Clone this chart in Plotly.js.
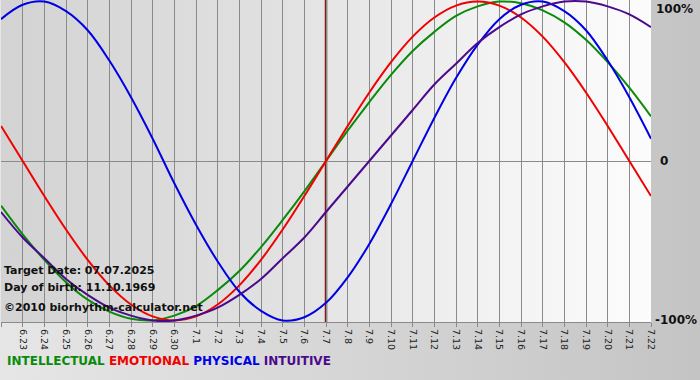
<!DOCTYPE html>
<html>
<head>
<meta charset="utf-8">
<script src="https://cdn.plot.ly/plotly-3.0.1.min.js"></script>
<style>
  html, body { margin: 0; padding: 0; }
  #wrap { position: relative; width: 700px; height: 380px; overflow: hidden;
          background: linear-gradient(to right, #e6e6e6 0%, #d2d2d2 60%, #c4c4c4 100%); }
  #plotbg { position: absolute; left: 1px; top: 0px; width: 650px; height: 322px;
            background: linear-gradient(to right, #d3d3d3 0%, #e0e0e0 40%, #f2f2f2 75%, #fcfcfc 100%); }
  #chart { position: absolute; left: 0; top: 0; width: 700px; height: 380px; }
</style>
</head>
<body>
<div id="wrap"><div id="plotbg"></div><div id="chart"></div></div>
<script>
// Day labels (month.day), 22 June to 22 July 2025
const dayLabels = ["6.22","6.23","6.24","6.25","6.26","6.27","6.28","6.29","6.30","7.1","7.2","7.3","7.4","7.5","7.6","7.7","7.8","7.9","7.10","7.11","7.12","7.13","7.14","7.15","7.16","7.17","7.18","7.19","7.20","7.21","7.22"];
const targetLabel = "7.7";

// Values (fraction of 100%)
const intellectual = [-0.28,-0.46,-0.62,-0.76,-0.87,-0.945,-0.99,-1.0,-0.97,-0.91,-0.81,-0.69,-0.54,-0.37,-0.19,0.0,0.19,0.37,0.54,0.69,0.81,0.91,0.97,1.0,0.99,0.945,0.87,0.76,0.62,0.46,0.28];
const emotional    = [0.22,0.0,-0.22,-0.43,-0.62,-0.78,-0.90,-0.975,-1.0,-0.975,-0.90,-0.78,-0.62,-0.43,-0.22,0.0,0.22,0.43,0.62,0.78,0.90,0.975,1.0,0.975,0.90,0.78,0.62,0.43,0.22,0.0,-0.22];
const physical     = [0.89,0.98,1.0,0.94,0.82,0.63,0.40,0.14,-0.14,-0.40,-0.63,-0.82,-0.94,-1.0,-0.98,-0.89,-0.73,-0.52,-0.27,0.0,0.27,0.52,0.73,0.89,0.98,1.0,0.94,0.82,0.63,0.40,0.14];
const intuitive    = [-0.32,-0.48,-0.61,-0.74,-0.84,-0.92,-0.97,-1.0,-1.0,-0.97,-0.92,-0.84,-0.74,-0.61,-0.48,-0.32,-0.16,0.0,0.16,0.32,0.48,0.61,0.74,0.84,0.92,0.97,1.0,1.0,0.97,0.92,0.84];

const seriesNames  = ["INTELLECTUAL","EMOTIONAL","PHYSICAL","INTUITIVE"];
const seriesColors = ["#0a8a0a","#f00000","#0000e6","#4b0a8c"];
const seriesData   = [intellectual, emotional, physical, intuitive];

const xs = dayLabels.map((_, i) => i);
const traces = seriesData.map((vals, k) => ({
  x: xs, y: vals, type: "scatter", mode: "lines",
  name: seriesNames[k],
  line: { color: seriesColors[k], width: 2, shape: "spline", smoothing: 1 },
  hoverinfo: "skip", showlegend: false
}));

const targetIdx = dayLabels.indexOf(targetLabel);

const legendText = seriesNames.map((n, k) => '<span style="color:' + seriesColors[k] + '">' + n + '</span>').join(" ");
const infoFont = { family: "DejaVu Sans", size: 11, color: "#111" };
const axisLabelFont = { family: "DejaVu Sans", size: 12, color: "#111" };

const layout = {
  width: 700, height: 380,
  margin: { l: 1, r: 49, t: 0, b: 58 },
  paper_bgcolor: "rgba(0,0,0,0)",
  plot_bgcolor: "rgba(0,0,0,0)",
  showlegend: false,
  xaxis: {
    range: [0, dayLabels.length - 1],
    tickvals: xs, ticktext: dayLabels, tickangle: 90,
    showgrid: true, gridcolor: "#8a8a8a", gridwidth: 1,
    ticks: "outside", ticklen: 4, tickcolor: "#8a8a8a",
    showline: true, linecolor: "#8a8a8a", linewidth: 1,
    zeroline: false,
    tickfont: { family: "DejaVu Sans", size: 9.5, color: "#222" },
    fixedrange: true
  },
  yaxis: {
    range: [-1.01, 1.01],
    showgrid: false, zeroline: true, zerolinecolor: "#8a8a8a", zerolinewidth: 1,
    showticklabels: false, ticks: "", showline: false, fixedrange: true
  },
  shapes: [
    { type: "line", xref: "x", yref: "paper", x0: targetIdx, x1: targetIdx, y0: 0, y1: 1,
      line: { color: "#7e1c1c", width: 2.5 }, layer: "below" }
  ],
  annotations: [
    { xref: "paper", yref: "y", x: 1, y: 1.01, xanchor: "left", yanchor: "top", xshift: 3,
      text: "<b>100%</b>", showarrow: false, font: axisLabelFont },
    { xref: "paper", yref: "y", x: 1, y: 0, xanchor: "left", yanchor: "middle", xshift: 7,
      text: "<b>0</b>", showarrow: false, font: axisLabelFont },
    { xref: "paper", yref: "y", x: 1, y: -1, xanchor: "left", yanchor: "middle", xshift: 2,
      text: "<b>-100%</b>", showarrow: false, font: axisLabelFont },
    { xref: "paper", yref: "paper", x: 0, y: 0.132, xanchor: "left", yanchor: "bottom", xshift: 1,
      text: "<b>Target Date: 07.07.2025</b>", showarrow: false, font: infoFont },
    { xref: "paper", yref: "paper", x: 0, y: 0.082, xanchor: "left", yanchor: "bottom", xshift: 1,
      text: "<b>Day of birth: 11.10.1969</b>", showarrow: false, font: infoFont },
    { xref: "paper", yref: "paper", x: 0, y: 0.02, xanchor: "left", yanchor: "bottom", xshift: 1,
      text: "<b>©2010 biorhythm-calculator.net</b>", showarrow: false, font: infoFont },
    { xref: "paper", yref: "paper", x: 0, y: 0, xanchor: "left", yanchor: "middle", xshift: 4, yshift: -39,
      text: "<b>" + legendText + "</b>", showarrow: false,
      font: { family: "DejaVu Sans", size: 12, color: "#111" } }
  ]
};

Plotly.newPlot("chart", traces, layout, { displayModeBar: false, staticPlot: true });
</script>
</body>
</html>
